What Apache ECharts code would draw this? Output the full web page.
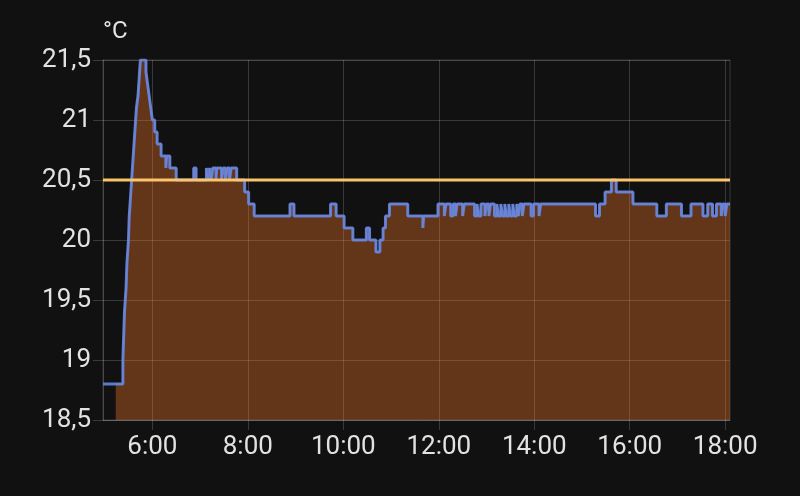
<!DOCTYPE html>
<html>
<head>
<meta charset="utf-8">
<script src="https://cdn.jsdelivr.net/npm/echarts@6/dist/echarts.min.js"></script>
<style>
  html, body { margin: 0; padding: 0; background: #111111; }
  #chart { width: 800px; height: 496px; }
</style>
</head>
<body>
<div id="chart"></div>
<script>
// ---- data (times as H:MM, temperatures in °C) ----
const times = [
  '4:58','5:23','5:24','5:25','5:27','5:28','5:30','5:31','5:33','5:34',
  '5:35','5:36','5:37','5:38','5:39','5:40','5:42','5:43','5:44','5:45',
  '5:52','5:54','5:56','5:58','6:00','6:03','6:06','6:11','6:17','6:18',
  '6:22','6:30','6:52','6:55','7:08','7:10','7:12','7:14','7:16','7:20',
  '7:21','7:27','7:29','7:32','7:34','7:37','7:39','7:46','7:56','8:01',
  '8:08','8:53','8:58','9:44','9:51','10:01','10:12','10:29','10:33','10:41',
  '10:46','10:50','10:53','10:58','11:21','11:40','11:41','11:59','12:07','12:09',
  '12:15','12:18','12:21','12:23','12:30','12:32','12:45','12:48','12:50','12:53',
  '12:58','13:00','13:03','13:05','13:10','13:13','13:15','13:18','13:20','13:23',
  '13:25','13:28','13:30','13:33','13:35','13:38','13:40','13:42','13:45','13:47',
  '13:56','13:59','14:06','14:08','15:17','15:22','15:29','15:37','15:43','16:04',
  '16:34','16:46','17:05','17:17','17:32','17:38','17:44','17:49','17:55','17:57',
  '18:00','18:02','18:06'
];
const temps = [
  18.8,19.0,19.2,19.4,19.6,19.8,20.0,20.2,20.4,20.5,
  20.6,20.7,20.8,20.9,21.0,21.1,21.2,21.3,21.4,21.5,
  21.4,21.3,21.2,21.1,21.0,20.9,20.8,20.7,20.6,20.7,
  20.6,20.5,20.6,20.5,20.6,20.5,20.6,20.5,20.6,20.5,
  20.6,20.5,20.6,20.5,20.6,20.5,20.6,20.5,20.4,20.3,
  20.2,20.3,20.2,20.3,20.2,20.1,20.0,20.1,20.0,19.9,
  20.0,20.1,20.2,20.3,20.2,20.1,20.2,20.3,20.2,20.3,
  20.2,20.3,20.2,20.3,20.2,20.3,20.2,20.3,20.2,20.3,
  20.2,20.3,20.2,20.3,20.2,20.3,20.2,20.3,20.2,20.3,
  20.2,20.3,20.2,20.3,20.2,20.3,20.2,20.3,20.2,20.3,
  20.2,20.3,20.2,20.3,20.2,20.3,20.4,20.5,20.4,20.3,
  20.2,20.3,20.2,20.3,20.2,20.3,20.2,20.3,20.2,20.3,
  20.2,20.3,20.3
];
const heatingStart = '5:14';
const targetTimes = ['4:58', '18:06'];
const targetTemps = [20.5, 20.5];
const xTickTimes = ['6:00','8:00','10:00','12:00','14:00','16:00','18:00'];
const yTicks = [18.5, 19, 19.5, 20, 20.5, 21, 21.5];
const axisStart = '4:58';
const axisEnd = '18:06';

// ---- helpers ----
const toMin = s => { const p = s.split(':'); return Number(p[0]) * 60 + Number(p[1]); };
const fmtTime = m => Math.floor(m / 60) + ':' + String(Math.round(m % 60)).padStart(2, '0');

const current = times.map((t, i) => [toMin(t), temps[i]]);
const hs = toMin(heatingStart);
let startVal = temps[0];
current.forEach(p => { if (p[0] <= hs) startVal = p[1]; });
const heating = [[hs, startVal]].concat(current.filter(p => p[0] > hs));
const target = targetTimes.map((t, i) => [toMin(t), targetTemps[i]]);

const textColor = '#e2e2e2';
const gridColor = 'rgba(255,255,255,0.17)';
const font = 'Roboto';

const chart = echarts.init(document.getElementById('chart'), null, { renderer: 'canvas' });
chart.setOption({
  backgroundColor: '#111111',
  animation: false,
  grid: {
    left: 103, right: 70, top: 60, bottom: 76,
    show: true, borderColor: gridColor, borderWidth: 1
  },
  xAxis: {
    type: 'value',
    min: toMin(axisStart),
    max: toMin(axisEnd),
    axisLine: { show: true, lineStyle: { color: gridColor } },
    axisTick: {
      show: true, length: 10, inside: false,
      customValues: xTickTimes.map(toMin),
      lineStyle: { color: gridColor }
    },
    axisLabel: {
      customValues: xTickTimes.map(toMin),
      formatter: v => fmtTime(v),
      color: textColor, fontSize: 26, fontFamily: font, margin: 14
    },
    splitLine: { show: true, lineStyle: { color: gridColor, width: 1 } }
  },
  yAxis: {
    type: 'value',
    min: yTicks[0],
    max: yTicks[yTicks.length - 1],
    interval: 0.5,
    name: '°C',
    nameLocation: 'end',
    nameGap: 28,
    nameTextStyle: {
      color: textColor, fontSize: 24, fontFamily: font,
      align: 'left', verticalAlign: 'middle', padding: [0, 0, 0, 0]
    },
    axisLine: { show: true, lineStyle: { color: gridColor } },
    axisTick: { show: true, length: 10, inside: false, lineStyle: { color: gridColor } },
    axisLabel: {
      formatter: v => String(v).replace('.', ','),
      color: textColor, fontSize: 26, fontFamily: font, margin: 12
    },
    splitLine: { show: true, lineStyle: { color: gridColor, width: 1 } }
  },
  series: [
    {
      name: 'heating',
      type: 'line',
      step: 'end',
      data: heating,
      symbol: 'none',
      z: 1,
      lineStyle: { color: '#f08a4b', width: 1.5 },
      areaStyle: { color: 'rgba(255,122,40,0.35)', opacity: 1, origin: 'start' }
    },
    {
      name: 'current',
      type: 'line',
      step: 'end',
      data: current,
      symbol: 'none',
      z: 2,
      lineStyle: { color: '#6283de', width: 3, opacity: 0.92 }
    },
    {
      name: 'target',
      type: 'line',
      data: target,
      symbol: 'none',
      z: 3,
      lineStyle: { color: '#f9c46a', width: 3 }
    }
  ]
});
</script>
</body>
</html>
